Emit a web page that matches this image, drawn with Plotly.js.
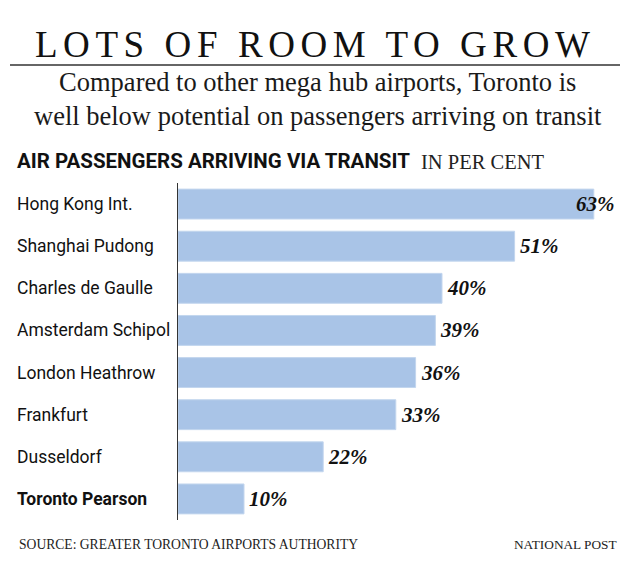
<!DOCTYPE html>
<html>
<head>
<meta charset="utf-8">
<script src="https://cdn.plot.ly/plotly-3.0.1.min.js"></script>
<style>html,body{margin:0;padding:0;background:#fff;}#chart{width:620px;height:567px;}</style>
</head>
<body>
<div id="chart"></div>
<script>
// ---- data ----
const airports = ["Hong Kong Int.", "Shanghai Pudong", "Charles de Gaulle", "Amsterdam Schipol",
                  "London Heathrow", "Frankfurt", "Dusseldorf", "Toronto Pearson"];
const transitPct = [63, 51, 40, 39, 36, 33, 22, 10];
const highlighted = "Toronto Pearson";
const titleText = "LOTS OF ROOM TO GROW";
const subtitleLines = ["Compared to other mega hub airports, Toronto is",
                       "well below potential on passengers arriving on transit"];
const headerText = "AIR PASSENGERS ARRIVING VIA TRANSIT";
const unitText = "IN PER CENT";
const sourceText = "SOURCE: GREATER TORONTO AIRPORTS AUTHORITY";
const creditText = "NATIONAL POST";

// ---- layout helpers (pixel -> paper) ----
const W = 620, H = 567, ML = 178, MR = 13, MT = 183, MB = 47;
const PW = W - ML - MR, PH = H - MT - MB;
const px = x => (x - ML) / PW;
const py = y => (H - MB - y) / PH;

const serif = "Liberation Serif, Times New Roman, serif";
const sans = "Roboto, Arial, sans-serif";
const maxVal = Math.max(...transitPct);

const annotations = [];
annotations.push({xref:'paper', yref:'paper', x:px(312), y:py(44), xanchor:'center', yanchor:'middle',
  text:titleText, showarrow:false, font:{family:serif, size:37, color:'#111'}});
annotations.push({xref:'paper', yref:'paper', x:px(318), y:py(99), xanchor:'center', yanchor:'middle',
  text:subtitleLines.join('<br>'), showarrow:false, align:'center',
  font:{family:serif, size:26.5, color:'#1a1a1a'}});
annotations.push({xref:'paper', yref:'paper', x:px(15), y:py(161), xanchor:'left', yanchor:'middle', align:'left',
  text:'<b>'+headerText+'</b>', showarrow:false, font:{family:sans, size:20.5, color:'#111'}});
annotations.push({xref:'paper', yref:'paper', x:px(419), y:py(162), xanchor:'left', yanchor:'middle', align:'left',
  text:unitText, showarrow:false, font:{family:serif, size:20.5, color:'#222'}});
annotations.push({xref:'paper', yref:'paper', x:px(17), y:py(544), xanchor:'left', yanchor:'middle', align:'left',
  text:sourceText, showarrow:false, font:{family:serif, size:13.6, color:'#222'}});
annotations.push({xref:'paper', yref:'paper', x:px(619), y:py(544), xanchor:'right', yanchor:'middle', align:'right',
  text:creditText, showarrow:false, font:{family:serif, size:13.3, color:'#222'}});

airports.forEach((a, i) => {
  annotations.push({xref:'paper', yref:'y', x:0, xshift:-163, y:a, xanchor:'left', yanchor:'middle', align:'left',
    text: a === highlighted ? '<b>'+a+'</b>' : a, showarrow:false,
    font:{family:sans, size:17.5, color:'#111'}});
  const v = transitPct[i];
  const isMax = v === maxVal;
  annotations.push({xref:'x', yref:'y', x:v, y:a, xanchor:isMax ? 'right' : 'left', xshift:isMax ? 23 : 3,
    yanchor:'middle', text:'<b><i>'+v+'%</i></b>', showarrow:false,
    font:{family:serif, size:21, color:'#111'}});
});

const trace = {
  type:'bar', orientation:'h', y:airports, x:transitPct,
  marker:{color:'#a9c4e7', line:{color:'#c3d6ee', width:1}},
  hoverinfo:'none', cliponaxis:false
};

const layout = {
  width:W, height:H, margin:{l:ML, r:MR, t:MT, b:MB},
  paper_bgcolor:'#fff', plot_bgcolor:'#fff', showlegend:false, bargap:0.29,
  xaxis:{range:[0, 65], visible:false, fixedrange:true},
  yaxis:{type:'category', categoryorder:'array', categoryarray:airports, autorange:'reversed',
    showticklabels:false, ticks:'', showgrid:false, zeroline:false,
    showline:true, linecolor:'#333', linewidth:1.5, fixedrange:true},
  shapes:[{type:'line', xref:'paper', yref:'paper', x0:px(10), x1:px(620), y0:py(65), y1:py(65),
    line:{color:'#666', width:2}}],
  annotations: annotations
};

Plotly.newPlot('chart', [trace], layout, {staticPlot:true}).then(() => {
  document.querySelectorAll('.annotation-text').forEach(t => {
    const s = t.textContent;
    if (s === titleText) { t.setAttribute('textLength', '555'); t.setAttribute('lengthAdjust', 'spacing'); }
  });
});
</script>
</body>
</html>
